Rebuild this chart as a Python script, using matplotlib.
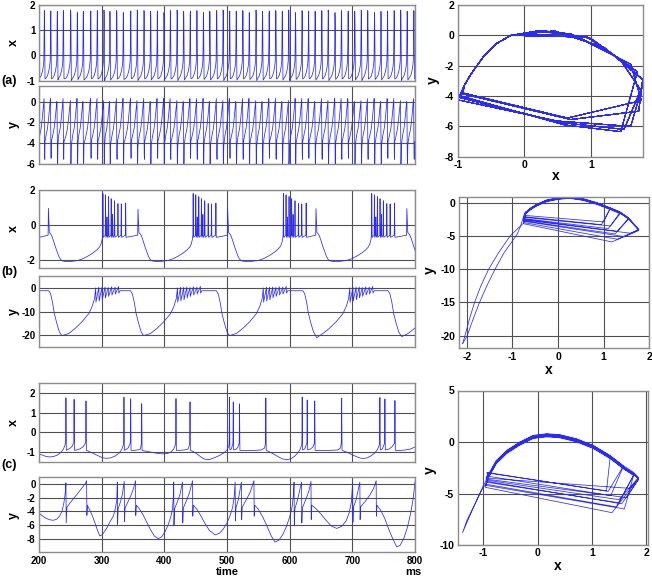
import matplotlib
matplotlib.use("Agg")
import matplotlib.pyplot as plt

plt.rcParams['font.family'] = ['Liberation Sans', 'DejaVu Sans']
plt.rcParams['axes.unicode_minus'] = False

# ====================== DATA ======================
t_ticks = [200, 300, 400, 500, 600, 700, 800]

# ---- (a) tonic spiking: spike times (ms) and sampled shape kinds ----
a_spike_t = [208.5, 218.6, 229.2, 238.8, 250.5, 261.1, 270.7, 282.4, 293.0, 303.7,
             313.2, 323.9, 334.5, 346.2, 356.8, 367.5, 378.1, 388.7, 399.4, 409.6,
             420.4, 430.8, 441.2, 451.9, 462.3, 472.6, 483.4, 493.8, 504.1, 514.7,
             525.2, 535.5, 546.3, 556.6, 567.1, 577.8, 588.2, 598.5, 609.2, 619.7,
             630.0, 640.6, 651.2, 661.5, 672.3, 682.6, 693.1, 703.8, 714.2, 724.5,
             735.3, 745.7, 756.0, 766.6, 777.2, 787.5, 798.1]
a_kind = "ACBADEBCAD" "BAECDABCEA" "DBCAEBADCB" "AEDBCABDEA" "CBADEACBDA" "EBCADBA"
a_start = (200.0, -0.92, -3.9)
a_slow_dt = [-7.5, -5.0, -3.0, -1.6, -0.8]
a_slow_x = [-0.90, -0.80, -0.62, -0.42, -0.20]
a_slow_y = [-3.30, -2.55, -1.45, -0.55, 0.00]
a_fast_dt = [-0.45, -0.2, 0.0, 0.35, 0.7, 1.1]
a_fast_x = {'A': [0.45, 1.20, 1.78, 1.72, 0.70, -0.93],
            'B': [0.95, 1.45, 1.75, 1.50, 0.55, -0.97],
            'C': [0.20, 0.70, 1.60, 1.76, 0.65, -0.92],
            'D': [0.70, 1.30, 1.80, 1.60, 0.50, -1.00],
            'E': [0.30, 1.00, 1.70, 1.45, 0.60, -0.95]}
a_fast_y = {'A': [0.29, -0.80, -2.90, -5.00, -5.55, -3.85],
            'B': [-0.12, -1.65, -3.60, -6.20, -5.75, -4.10],
            'C': [0.29, 0.10, -1.90, -4.30, -5.45, -3.80],
            'D': [0.10, -1.15, -3.00, -6.00, -5.65, -4.25],
            'E': [0.30, -0.20, -2.40, -6.35, -5.90, -4.00]}

# ---- (b) bursting, x trace ----
b_burst_t = [163.0, 302.0, 446.0, 590.0, 731.0, 875.0]
b_last_t = [215.0, 358.0, 501.0, 642.0, 787.0, 931.0]
b_last_pk = [0.95, 0.90, 0.93, 0.93, 0.93, 0.93]
b_sp_dt = [0.0, 4.2, 6.5, 9.0, 13.2, 15.5, 18.5, 24.0, 29.3, 36.3]
b_sp_pk = [1.80, 1.72, 0.45, 1.62, 1.50, 0.60, 1.38, 1.22, 1.20, 1.25]
b_foot, b_trough = -0.60, -0.72
b_fall_dt = [1.5, 3, 5, 8, 11, 13.5, 16.5, 19, 22, 26, 34]
b_fall_x = [-0.45, -0.50, -0.60, -0.90, -1.25, -1.50, -1.80, -1.97, -2.07, -2.10, -2.12]
b_rise_dt = [-40, -32, -24, -16, -10, -5.5, -3, -1.3]
b_rise_x = [-2.05, -1.95, -1.80, -1.62, -1.45, -1.28, -1.10, -0.85]

# ---- (b) bursting, y trace ----
b_ymin_t = [237.5, 368.0, 505.0, 643.0, 779.0]
b_ymin_v = [-20.0, -20.0, -20.0, -21.0, -20.5]
b_flat_y = -1.2
b_ydrop_dt = [-22, -19, -16, -13, -9, -5, -2]
b_ydrop_v = [-1.2, -2.5, -6.0, -10.8, -15.0, -18.5, -19.8]
b_yrise_dt = [10, 20, 31, 42, 47, 51]
b_yrise_v = [-19.2, -17.1, -14.3, -10.8, -8.0, -4.6]
b_tooth_dt = [53, 58, 63, 68, 73, 78.5, 84, 89.5]
b_tooth_pk = [0.0, 0.3, 0.3, 0.4, 0.2, 0.5, 0.3, 0.6]
b_tooth_low = [-6.0, -5.5, -5.0, -4.2, -3.6, -3.0, -2.6, -2.2]
b_yend_dt = 92

# ---- (c) x trace vertices (t, x) ----
c_x_pts = [
    (200, -1.1), (205, -1.16), (210, -1.22), (217, -1.26), (224, -1.23), (230, -1.15), (235, -1.02),
    (238.5, -0.88), (241, -0.7), (242.6, -0.5),
    (243, 1.76), (243.6, -0.92), (246, -0.88), (250, -0.8), (253, -0.7), (255.5, -0.52), (256, 1.68), (256.6, -0.92),
    (260, -0.9), (265, -0.85), (270, -0.75), (273, -0.62), (274.5, -0.5), (275, 1.6), (275.6, -0.92),
    (280, -0.98), (288, -1.1), (296, -1.22), (302, -1.3), (308, -1.33), (315, -1.3), (322, -1.2), (328, -1.05),
    (332, -0.88), (334.5, -0.65), (335.1, -0.5),
    (335.6, 1.79), (336.2, -0.92), (339, -0.88), (342, -0.8), (344.5, -0.65), (345.8, -0.5), (346.3, 1.71), (346.9, -0.92),
    (352, -0.92), (358, -0.9), (362, -0.85), (363.4, -0.55), (363.9, 1.46), (364.5, -0.92),
    (370, -0.96), (380, -1.02), (390, -1.08), (398, -1.1), (405, -1.08), (411, -1.0), (415, -0.85), (417.5, -0.65), (418.1, -0.5),
    (418.6, 1.72), (419.2, -0.92), (425, -0.92), (432, -0.9), (438, -0.85), (440.4, -0.6), (441, 1.55), (441.6, -0.92),
    (446, -0.98), (452, -1.1), (458, -1.25), (463, -1.35), (467.5, -1.4), (473, -1.38), (480, -1.3), (488, -1.18),
    (495, -1.05), (500, -0.9), (503, -0.7), (503.5, -0.5),
    (504, 1.8), (504.6, -0.9), (507, -0.85), (509.5, -0.55), (510, 1.55), (510.6, -0.9), (514, -0.88), (517, -0.78),
    (519.5, -0.55), (520, 1.45), (520.6, -0.92),
    (530, -0.93), (545, -0.92), (555, -0.9), (560, -0.8), (561.5, -0.55), (562, 1.75), (562.6, -0.92),
    (568, -1.0), (575, -1.12), (582, -1.25), (588, -1.35), (595, -1.4), (602, -1.35), (608, -1.22), (613, -1.05),
    (617, -0.85), (619, -0.65), (619.5, -0.5),
    (620, 1.8), (620.6, -0.9), (624, -0.85), (627.5, -0.55), (628, 1.65), (628.6, -0.9), (633, -0.86), (637, -0.75),
    (639.5, -0.55), (640, 1.6), (640.6, -0.92),
    (650, -0.93), (665, -0.92), (677, -0.9), (681, -0.8), (682.5, -0.55), (683, 1.75), (683.6, -0.92),
    (690, -1.0), (698, -1.12), (705, -1.22), (711, -1.3), (717.6, -1.34), (724, -1.3), (730, -1.2), (736, -1.05),
    (740, -0.88), (743, -0.65), (743.5, -0.5),
    (744, 1.78), (744.6, -0.9), (748, -0.85), (751.5, -0.55), (752, 1.7), (752.6, -0.9), (758, -0.86), (763, -0.75),
    (767.5, -0.55), (768, 1.62), (768.6, -0.92),
    (775, -0.93), (785, -0.9), (793, -0.85), (800, -0.75)]

# ---- (c) y trace vertices (t, y) ----
c_y_pts = [
    (200, -4.25), (206, -4.7), (212, -5.05), (218, -5.25), (223, -5.3), (228, -5.15), (233, -4.7), (237, -3.9),
    (240, -2.6), (242, -1.2), (243, 0.2), (243.4, -5.7), (244.5, -3.4),
    (250, -2.7), (258, -1.8), (265, -1.0), (270, -0.4), (274, 0.1), (276, 0.5), (276.4, -4.6), (277.3, -3.1),
    (281, -3.8), (285, -4.6), (289, -5.6), (293, -6.7), (297, -7.6), (301, -7.4), (305, -6.9), (309, -6.3),
    (314, -5.4), (318.6, -4.7), (321.5, -3.7), (324, -2.5), (325, 0.3), (325.4, -5.9), (326.3, -3.6),
    (330, -2.6), (333, -1.5), (336, 0.4), (336.4, -5.5), (337.3, -3.5),
    (342, -2.6), (347, -1.6), (351, -0.6), (354, 0.5), (354.4, -4.6), (355.3, -3.1),
    (360, -3.6), (366, -4.5), (372, -5.6), (378, -6.7), (384, -7.6), (390.4, -8.0), (396, -7.7), (401, -7.0),
    (406, -6.0), (410, -4.9), (413, -3.6), (414.5, -1.8), (415, 0.3), (415.4, -6.1), (416.3, -3.6),
    (420, -2.8), (425, -1.5), (429, 0.3), (429.4, -5.7), (430.3, -3.5),
    (435, -2.5), (440, -1.3), (445, 0.5), (445.4, -4.7), (446.3, -3.1),
    (452, -3.7), (458, -4.6), (465, -5.8), (472, -6.8), (480.9, -7.45), (488, -7.2), (494, -6.6), (500, -5.7),
    (505, -4.6), (509, -3.4), (511.5, -1.8), (513, 0.3), (513.4, -5.4), (514.3, -3.5),
    (518, -2.3), (523, 0.3), (523.4, -5.2), (524.3, -3.4),
    (530, -2.4), (537, -1.2), (543, 0.5), (543.4, -4.7), (544.3, -3.1),
    (550, -3.7), (557, -4.8), (564, -6.2), (570, -7.5), (576.6, -8.5), (583, -8.2), (589, -7.4), (595, -6.2),
    (600, -4.8), (604, -3.3), (606, -1.6), (607, 0.3), (607.4, -6.1), (608.3, -3.6),
    (612, -2.5), (619, 0.3), (619.4, -5.7), (620.3, -3.5),
    (626, -2.2), (631, -0.9), (634, 0.4), (634.4, -5.2), (635.3, -3.1),
    (642, -3.6), (650, -4.4), (658, -5.3), (666, -6.1), (675, -6.5), (683, -6.2), (690, -5.4), (695, -4.2),
    (698.5, -2.6), (700.5, 0.3), (700.9, -5.6), (701.8, -3.4),
    (706, -2.3), (712, 0.3), (712.4, -5.2), (713.3, -3.3),
    (720, -2.6), (728, -1.6), (734, -0.6), (738, 0.5), (738.4, -4.7), (739.3, -3.1),
    (745, -3.8), (752, -5.1), (758, -6.6), (764, -7.9), (770.7, -9.2), (776, -9.0), (782, -8.0), (788, -6.3),
    (793, -4.3), (797, -2.2), (800, 0.3)]

# ---- (b) phase portrait: upper arc, spike loops, slow descent/return ----
pb_arc_x = [-0.72, -0.60, -0.47, -0.25, 0.00, 0.26, 0.55, 0.85, 1.14, 1.36, 1.55, 1.77]
pb_arc_y = [-1.60, -0.90, -0.35, 0.30, 0.65, 0.80, 0.50, -0.10, -0.86, -1.50, -2.40, -4.10]
pb_tip = [8, 8, 9, 9, 10, 10, 11, 11, 11, 11]
pb_qx = [1.00, 0.95, 1.15, 1.10, 1.30, 1.25, 1.45, 1.30, 1.18, 1.60]
pb_qy = [-2.9, -3.3, -3.5, -3.9, -4.3, -4.7, -5.1, -5.5, -5.9, -4.6]
pb_lx = [-0.75, -0.74, -0.76, -0.75, -0.73, -0.76, -0.75, -0.74, -0.76, -0.75]
pb_ly = [-1.9, -2.1, -2.2, -2.4, -2.5, -2.7, -2.8, -3.0, -3.15, -2.6]
pb_dy = [0.0, -0.1, 0.05, -0.15, 0.1, -0.05, 0.0, 0.08, -0.08, 0.03]
pb_dn_x = [-0.70, -0.76, -0.82, -0.90, -1.18, -1.38, -1.56, -1.72, -1.86, -1.99, -2.09]
pb_dn_y = [-1.3, -2.2, -3.5, -4.8, -7.5, -10.0, -12.5, -15.0, -17.5, -20.0, -21.2]
pb_up_x = [-2.09, -2.04, -1.94, -1.83, -1.69, -1.52, -1.30, -1.05, -0.90, -0.76]
pb_up_y = [-21.2, -20.0, -17.5, -15.0, -12.5, -10.0, -7.5, -5.0, -4.0, -3.1]

# ---- (c) phase portrait ----
pc_arc_x = [-0.91, -0.76, -0.57, -0.33, -0.08, 0.17, 0.41, 0.72, 1.03, 1.34, 1.58, 1.77, 1.86]
pc_arc_y = [-3.37, -1.96, -0.98, -0.16, 0.49, 0.65, 0.56, 0.16, -0.49, -1.47, -2.45, -3.10, -3.60]
pc_tip = [12, 11, 10, 12, 11, 9, 12, 10, 11, 12, 12]
pc_qx = [1.64, 1.50, 1.30, 1.37, 1.45, 1.27, 1.55, 1.35, 1.60, 1.70, 1.50]
pc_qy = [-5.4, -5.9, -4.8, -6.86, -6.3, -4.74, -6.0, -5.2, -6.5, -4.5, -5.6]
pc_lx = [-0.95, -0.94, -0.93, -0.96, -0.95, -0.93, -0.95, -0.94, -0.96, -0.95, -0.94]
pc_ly = [-3.6, -3.9, -2.95, -4.4, -4.1, -3.0, -3.8, -3.3, -4.2, -3.5, -3.7]
pc_dy = [0.0, -0.1, 0.1, 0.05, -0.15, 0.12, -0.05, 0.08, -0.1, 0.0, 0.15]
pc_tail_x = [-0.93, -1.00, -1.10, -1.25, -1.38, -1.30, -1.15, -1.02, -0.93]
pc_tail_y = [-3.6, -4.25, -5.4, -7.2, -8.8, -7.6, -6.0, -4.6, -3.9]


# ====================== BUILD TRACES ======================
def build_a():
    t, x, y = [a_start[0]], [a_start[1]], [a_start[2]]
    for tp, k in zip(a_spike_t, a_kind):
        for dt, xv, yv in zip(a_slow_dt, a_slow_x, a_slow_y):
            t.append(tp + dt); x.append(xv); y.append(yv)
        for dt, xv, yv in zip(a_fast_dt, a_fast_x[k], a_fast_y[k]):
            t.append(tp + dt); x.append(xv); y.append(yv)
    return t, x, y


def build_bx():
    t, v = [], []
    for i, (B, L, lp) in enumerate(zip(b_burst_t, b_last_t, b_last_pk)):
        if i > 0:
            for dt, xv in zip(b_rise_dt, b_rise_x):
                t.append(B + dt); v.append(xv)
        for dt, pk in zip(b_sp_dt, b_sp_pk):
            tp = B + dt
            t += [tp - 0.5, tp, tp + 0.6]
            v += [b_foot, pk, b_trough]
        t += [L - 0.5, L]
        v += [b_foot, lp]
        for dt, xv in zip(b_fall_dt, b_fall_x):
            t.append(L + dt); v.append(xv)
    return t, v


def build_by():
    t, v = [200.0], [b_flat_y]
    for M, mv in zip(b_ymin_t, b_ymin_v):
        for dt, yv in zip(b_ydrop_dt, b_ydrop_v):
            t.append(M + dt); v.append(yv)
        t.append(M); v.append(mv)
        for dt, yv in zip(b_yrise_dt, b_yrise_v):
            t.append(M + dt); v.append(yv)
        for dt, pk, lo in zip(b_tooth_dt, b_tooth_pk, b_tooth_low):
            t += [M + dt, M + dt + 0.4]
            v += [pk, lo]
        t.append(M + b_yend_dt); v.append(b_flat_y)
    return t, v


def build_loops(ax_, ay_, tips, qx, qy, lx, ly, dy):
    X, Y = [], []
    for k, q1, q2, l1, l2, d in zip(tips, qx, qy, lx, ly, dy):
        for j in range(k + 1):
            X.append(ax_[j]); Y.append(ay_[j] + d)
        X += [q1, l1]; Y += [q2, l2]
    return X, Y


a_t, a_x, a_y = build_a()
bx_t, bx_v = build_bx()
by_t, by_v = build_by()
cx_t = [p[0] for p in c_x_pts]; cx_v = [p[1] for p in c_x_pts]
cy_t = [p[0] for p in c_y_pts]; cy_v = [p[1] for p in c_y_pts]
pbx, pby = build_loops(pb_arc_x, pb_arc_y, pb_tip, pb_qx, pb_qy, pb_lx, pb_ly, pb_dy)
pcx, pcy = build_loops(pc_arc_x, pc_arc_y, pc_tip, pc_qx, pc_qy, pc_lx, pc_ly, pc_dy)

# ====================== FIGURE ======================
W, H = 652, 577
fig = plt.figure(figsize=(W / 100, H / 100), dpi=100)
LC = '#2a2aff'
LW = 0.55
GRID = '#505050'
SPINE = '#8c8c8c'


def ax_px(l, t, r, b):
    return fig.add_axes([l / W, 1 - b / H, (r - l) / W, (b - t) / H])


def style(ax, xlim, ylim, xticks, yticks, xlabels=True, fs=7):
    ax.set_xlim(*xlim)
    ax.set_ylim(*ylim)
    ax.set_xticks(xticks)
    ax.set_yticks(yticks)
    ax.set_axisbelow(True)
    ax.grid(True, color=GRID, lw=0.8)
    ax.tick_params(length=0, labelsize=fs, pad=2.5)
    if not xlabels:
        ax.set_xticklabels([])
    for s in ax.spines.values():
        s.set_color(SPINE)
        s.set_linewidth(1.0)
    for lab in ax.get_xticklabels() + ax.get_yticklabels():
        lab.set_fontweight('bold')


# time series
ax1 = ax_px(39, 5, 415, 80.7)
ax1.plot(a_t, a_x, color=LC, lw=LW)
style(ax1, (200, 800), (-1, 2), t_ticks, [-1, 0, 1, 2], False)

ax2 = ax_px(39, 86, 415, 164)
ax2.plot(a_t, a_y, color=LC, lw=LW)
style(ax2, (200, 800), (-6, 1.5), t_ticks, [-6, -4, -2, 0], False)

ax3 = ax_px(39, 190, 415, 268.3)
ax3.plot(bx_t, bx_v, color=LC, lw=LW)
style(ax3, (200, 800), (-2.5, 2), t_ticks, [-2, 0, 2], False)

ax4 = ax_px(39, 276, 415, 347.3)
ax4.plot(by_t, by_v, color=LC, lw=LW)
style(ax4, (200, 800), (-25, 5), t_ticks, [-20, -10, 0], False)

ax5 = ax_px(39, 383.3, 415, 461.7)
ax5.plot(cx_t, cx_v, color=LC, lw=LW)
style(ax5, (200, 800), (-1.5, 2.5), t_ticks, [-1, 0, 1, 2], False)

ax6 = ax_px(39, 477.3, 415, 552.3)
ax6.plot(cy_t, cy_v, color=LC, lw=LW)
style(ax6, (200, 800), (-10, 1), t_ticks, [-8, -6, -4, -2, 0], True)

# phase portraits
p1 = ax_px(457.7, 5, 642.7, 156.7)
p1.plot(a_x, a_y, color=LC, lw=LW)
style(p1, (-1, 1.78), (-8, 2), [-1, 0, 1], [-8, -6, -4, -2, 0, 2], fs=7.5)

p2 = ax_px(459, 196.7, 649.3, 348.3)
p2.plot(pbx, pby, color=LC, lw=LW)
p2.plot(pb_dn_x, pb_dn_y, color=LC, lw=LW)
p2.plot(pb_up_x, pb_up_y, color=LC, lw=LW)
style(p2, (-2.17, 2.0), (-21.9, 0.9), [-2, -1, 0, 1, 2], [-20, -15, -10, -5, 0], fs=7.5)

p3 = ax_px(457.7, 390.5, 648.3, 545)
p3.plot(pcx, pcy, color=LC, lw=LW)
p3.plot(pc_tail_x, pc_tail_y, color=LC, lw=LW)
style(p3, (-1.47, 2.04), (-10, 5), [-1, 0, 1, 2], [-10, -5, 0, 5], fs=7.5)


def ftext(x, y, s, size, rot=0, ha='center'):
    fig.text(x / W, 1 - y / H, s, fontsize=size, fontweight='bold', rotation=rot,
             ha=ha, va='center')


for yc, s in [(43, 'x'), (124, 'y'), (228.5, 'x'), (311.7, 'y'), (422.5, 'x'), (515.5, 'y')]:
    ftext(14, yc, s, 9, rot=90)
ftext(1, 81, '(a)', 9, ha='left')
ftext(1, 272, '(b)', 9, ha='left')
ftext(1, 465, '(c)', 9, ha='left')
ftext(227, 572, 'time', 8)
ftext(413, 572, 'ms', 8)

ftext(556, 176.5, 'x', 10)
ftext(432.5, 80, 'y', 10, rot=90)
ftext(549, 370, 'x', 10)
ftext(430, 270, 'y', 10, rot=90)
ftext(558, 566, 'x', 10)
ftext(430, 470, 'y', 10, rot=90)

fig.savefig('out.png', dpi=100)
